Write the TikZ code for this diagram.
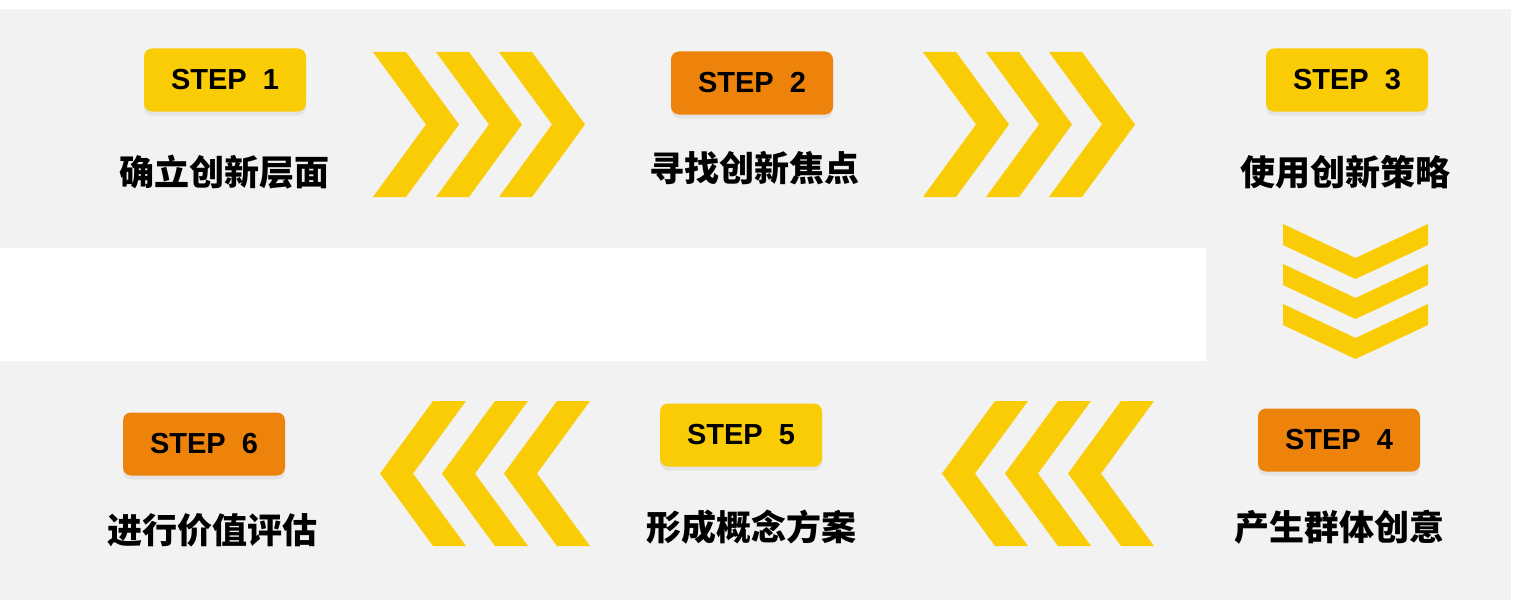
\documentclass[tikz,border=0pt]{standalone}
\usepackage{fontspec}
\setmainfont{Liberation Sans}
\newfontfamily\cjk{Noto Sans CJK SC}
\usetikzlibrary{shadows}
\definecolor{bggray}{HTML}{F2F2F2}
\definecolor{stepyellow}{HTML}{F9CC06}
\definecolor{steporange}{HTML}{EE830B}
\begin{document}
\begin{tikzpicture}[x=1pt,y=-1pt] % one unit is one pixel of the reference, y grows downwards
\tikzset{stepbox/.style={rounded corners=8pt, minimum width=162pt, minimum height=63pt, inner sep=0pt, font=\bfseries\fontsize{29}{29}\selectfont, drop shadow={shadow xshift=0pt, shadow yshift=-4pt, opacity=0.12}}} % the STEP tags
\tikzset{steptext/.style={inner sep=0pt, font=\cjk\bfseries\fontsize{35}{35}\selectfont}} % caption under each tag
\tikzset{chevfill/.style={fill=stepyellow}} % yellow chevrons
\useasboundingbox (0,0) rectangle (1513,602);
\fill[bggray] (0,9) rectangle (1511,600);
\fill[white] (0,248) rectangle (1206,361);
% top row, left to right
\foreach \x in {373,436,499}
  \fill[chevfill] (\x,52) -- ++(33,0) -- ++(53,72.5) -- ++(-53,72.5) -- ++(-33,0) -- ++(53,-72.5) -- cycle;
\foreach \x in {923,986,1049}
  \fill[chevfill] (\x,52) -- ++(33,0) -- ++(53,72.5) -- ++(-53,72.5) -- ++(-33,0) -- ++(53,-72.5) -- cycle;
% turn down on the right
\foreach \y in {224,264,304}
  \fill[chevfill] (1283,\y) -- (1355.5,\y+34) -- (1428,\y) -- (1428,\y+21) -- (1355.5,\y+55) -- (1283,\y+21) -- cycle;
% bottom row, right to left
\foreach \x in {380,442,504}
  \fill[chevfill] (\x,473.5) -- ++(53,-72.5) -- ++(33,0) -- ++(-53,72.5) -- ++(53,72.5) -- ++(-33,0) -- cycle;
\foreach \x in {942,1005,1068}
  \fill[chevfill] (\x,473.5) -- ++(53,-72.5) -- ++(33,0) -- ++(-53,72.5) -- ++(53,72.5) -- ++(-33,0) -- cycle;
\node[stepbox, fill=stepyellow] (step1) at (225,80) {STEP\ \ 1};
\node[stepbox, fill=steporange] (step2) at (752,83) {STEP\ \ 2};
\node[stepbox, fill=stepyellow] (step3) at (1347,80) {STEP\ \ 3};
\node[stepbox, fill=steporange] (step4) at (1339,440) {STEP\ \ 4};
\node[stepbox, fill=stepyellow] (step5) at (741,435) {STEP\ \ 5};
\node[stepbox, fill=steporange] (step6) at (204,444) {STEP\ \ 6};
\node[steptext] (level) at (224,172) {确立创新层面};
\node[steptext] (focus) at (754,168) {寻找创新焦点};
\node[steptext] (strategy) at (1345,172) {使用创新策略};
\node[steptext] (ideas) at (1339,527) {产生群体创意};
\node[steptext] (concept) at (751,527) {形成概念方案};
\node[steptext] (assess) at (212,530) {进行价值评估};
\end{tikzpicture}
\end{document}
